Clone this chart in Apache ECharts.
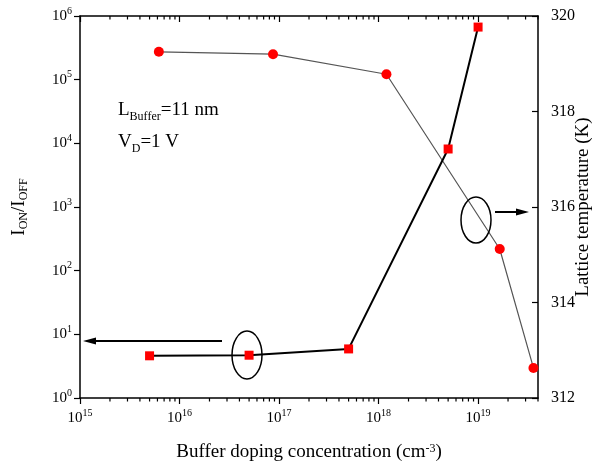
<!DOCTYPE html>
<html>
<head>
<meta charset="utf-8">
<script src="https://cdn.jsdelivr.net/npm/echarts@6/dist/echarts.min.js"></script>
<style>html,body{margin:0;padding:0;background:#fff}#c{width:593px;height:468px}</style>
</head>
<body>
<div id="c"></div>
<script>
// Data
const dopingIon = [5e15, 5e16, 5e17, 5e18, 1e19];
const ionIoff = [4.6, 4.7, 5.9, 8150, 6.7e5];
const dopingTemp = [6.2e15, 8.7e16, 1.2e18, 1.65e19, 3.6e19];
const latticeTemp = [319.25, 319.2, 318.78, 315.12, 312.63];
const xMajorTicks = [1e15, 1e16, 1e17, 1e18, 1e19];
const yMajorTicks = [1e0, 1e1, 1e2, 1e3, 1e4, 1e5, 1e6];
const tempTicks = [312, 314, 316, 318, 320];
const xMinorMantissas = [2, 3, 4, 5, 6, 7, 8, 9];
const xMinorDecades = [15, 16, 17, 18, 19];

const X_MIN = 1e15, X_MAX = 4e19, Y_MIN = 1, Y_MAX = 1e6;
const xMinorTicks = [];
xMinorDecades.forEach(e => xMinorMantissas.forEach(m => { const v = m * Math.pow(10, e); if (v <= X_MAX) xMinorTicks.push(v); }));

const FONT = '"Liberation Serif", "Times New Roman", serif';
const powRich = {
  b: { fontSize: 15, fontFamily: FONT, color: '#000', lineHeight: 20 },
  s: { fontSize: 10, fontFamily: FONT, color: '#000', verticalAlign: 'top', lineHeight: 10 }
};
const powFmt = v => '{b|10}{s|' + Math.round(Math.log10(v)) + '}';
const axisLine = { show: true, lineStyle: { color: '#000', width: 1.5 } };
const tickStyle = { color: '#000', width: 1.2 };

const chart = echarts.init(document.getElementById('c'), null, { renderer: 'canvas' });

chart.setOption({
  backgroundColor: '#fff',
  animation: false,
  grid: { left: 80, right: 55, top: 16, bottom: 70, containLabel: false, outerBoundsMode: 'none' },
  xAxis: [
    { type: 'log', min: X_MIN, max: X_MAX, position: 'bottom', axisLine: axisLine,
      axisTick: { show: true, inside: false, length: 6, lineStyle: tickStyle, customValues: xMajorTicks },
      axisLabel: { show: true, margin: 10, formatter: powFmt, rich: powRich, customValues: xMajorTicks },
      splitLine: { show: false },
      name: 'Buffer doping concentration (cm{s|-3})', nameLocation: 'middle', nameGap: 45, nameMoveOverlap: false,
      nameTextStyle: { fontSize: 19, fontFamily: FONT, color: '#000',
        rich: { s: { fontSize: 12, fontFamily: FONT, color: '#000', verticalAlign: 'top', lineHeight: 12 } } } },
    { type: 'log', min: X_MIN, max: X_MAX, position: 'top', axisLine: axisLine,
      axisTick: { show: true, inside: true, length: 6, lineStyle: tickStyle, customValues: xMajorTicks },
      axisLabel: { show: false }, splitLine: { show: false } }
  ],
  yAxis: [
    { type: 'log', min: Y_MIN, max: Y_MAX, position: 'left', axisLine: axisLine,
      axisTick: { show: true, inside: false, length: 6, lineStyle: tickStyle, customValues: yMajorTicks },
      axisLabel: { show: true, margin: 8, formatter: powFmt, rich: powRich, customValues: yMajorTicks },
      splitLine: { show: false },
      name: 'I{s|ON}/I{s|OFF}', nameLocation: 'middle', nameGap: 50, nameRotate: 90, nameMoveOverlap: false,
      nameTextStyle: { fontSize: 19, fontFamily: FONT, color: '#000',
        rich: { s: { fontSize: 12, fontFamily: FONT, color: '#000', verticalAlign: 'bottom', lineHeight: 22 } } } },
    { type: 'value', min: 312, max: 320, interval: 2, position: 'right', axisLine: axisLine,
      axisTick: { show: true, inside: true, length: 6, lineStyle: tickStyle },
      axisLabel: { show: true, margin: 13, fontSize: 16, fontFamily: FONT, color: '#000' },
      splitLine: { show: false },
      name: 'Lattice temperature (K)', nameLocation: 'middle', nameGap: 36, nameRotate: 90, nameMoveOverlap: false,
      nameTextStyle: { fontSize: 19, fontFamily: FONT, color: '#000' } }
  ],
  series: [
    { name: 'minor ticks', type: 'custom', xAxisIndex: 0, yAxisIndex: 0, silent: true, clip: false, z: 1,
      data: xMinorTicks.map(v => [v, Y_MIN]),
      renderItem: function (params, api) {
        const v = api.value(0);
        const pb = api.coord([v, Y_MIN]);
        const pt = api.coord([v, Y_MAX]);
        return { type: 'group', children: [
          { type: 'line', shape: { x1: pb[0], y1: pb[1], x2: pb[0], y2: pb[1] + 3.5 }, style: { stroke: '#000', lineWidth: 1.2 } },
          { type: 'line', shape: { x1: pt[0], y1: pt[1], x2: pt[0], y2: pt[1] + 3.5 }, style: { stroke: '#000', lineWidth: 1.2 } }
        ] };
      } },
    { name: 'ION/IOFF', type: 'line', xAxisIndex: 0, yAxisIndex: 0,
      data: dopingIon.map((x, i) => [x, ionIoff[i]]),
      symbol: 'rect', symbolSize: 9, itemStyle: { color: '#ff0000' },
      lineStyle: { color: '#000', width: 2 }, z: 3 },
    { name: 'Lattice temperature', type: 'line', xAxisIndex: 0, yAxisIndex: 1,
      data: dopingTemp.map((x, i) => [x, latticeTemp[i]]),
      symbol: 'circle', symbolSize: 10, itemStyle: { color: '#ff0000' },
      lineStyle: { color: '#555', width: 1.2 }, z: 2 }
  ],
  graphic: [
    { type: 'text', left: 118, top: 101, style: { text: 'L{s|Buffer}=11 nm', fontSize: 19, fontFamily: FONT, fill: '#000',
        rich: { s: { fontSize: 12, fontFamily: FONT, fill: '#000', verticalAlign: 'bottom', lineHeight: 25 } } } },
    { type: 'text', left: 118, top: 133, style: { text: 'V{s|D}=1 V', fontSize: 19, fontFamily: FONT, fill: '#000',
        rich: { s: { fontSize: 12, fontFamily: FONT, fill: '#000', verticalAlign: 'bottom', lineHeight: 25 } } } },
    { type: 'ellipse', shape: { cx: 247, cy: 355, rx: 15, ry: 24 }, style: { fill: 'none', stroke: '#000', lineWidth: 1.5 }, z: 10 },
    { type: 'line', shape: { x1: 222, y1: 341, x2: 94, y2: 341 }, style: { stroke: '#000', lineWidth: 2 }, z: 10 },
    { type: 'polygon', shape: { points: [[83, 341], [96, 337.5], [96, 344.5]] }, style: { fill: '#000' }, z: 10 },
    { type: 'ellipse', shape: { cx: 476, cy: 220, rx: 15, ry: 23 }, style: { fill: 'none', stroke: '#000', lineWidth: 1.5 }, z: 10 },
    { type: 'line', shape: { x1: 495, y1: 212, x2: 518, y2: 212 }, style: { stroke: '#000', lineWidth: 2 }, z: 10 },
    { type: 'polygon', shape: { points: [[529, 212], [516, 208.5], [516, 215.5]] }, style: { fill: '#000' }, z: 10 }
  ]
});
</script>
</body>
</html>
